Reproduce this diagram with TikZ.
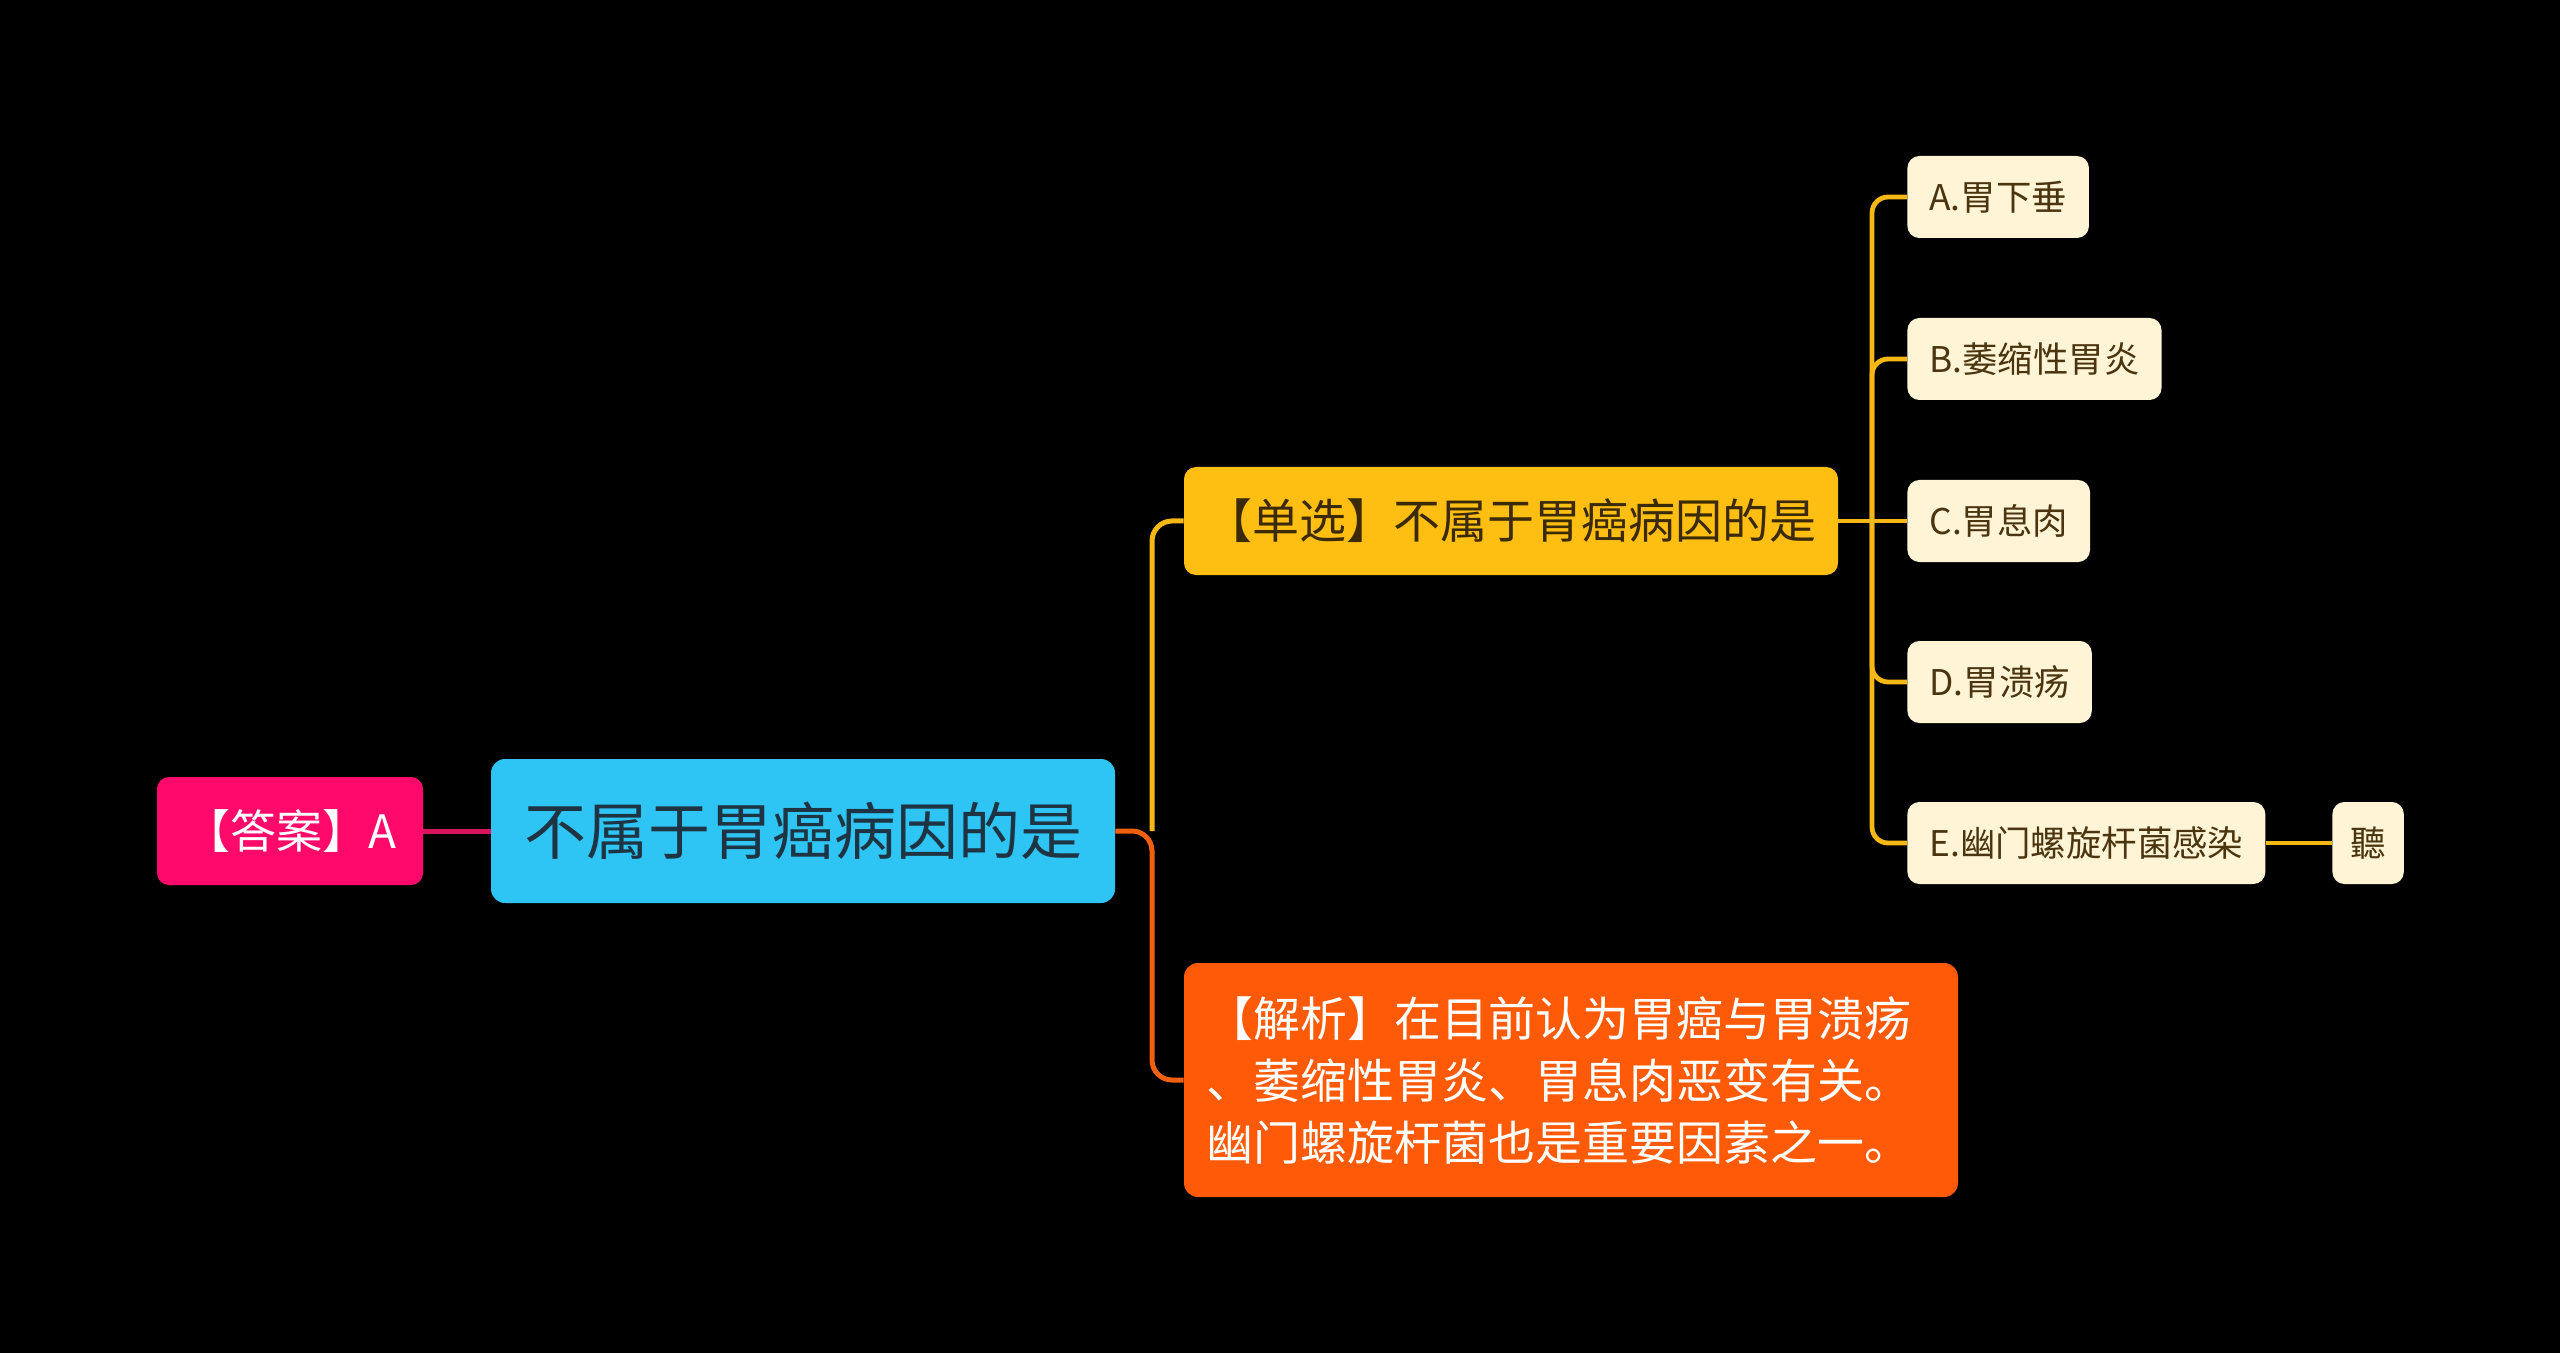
\documentclass[tikz,border=0pt]{standalone}
\usepackage{fontspec}
\newfontfamily\cjk{Noto Sans CJK SC}
\usetikzlibrary{positioning}

\definecolor{ansred}{HTML}{FF0A6A}
\definecolor{rootblue}{HTML}{2EC4F3}
\definecolor{rootink}{HTML}{1E3442}
\definecolor{qyellow}{HTML}{FFBE12}
\definecolor{qink}{HTML}{3B2A08}
\definecolor{noteorange}{HTML}{FF5A07}
\definecolor{optcream}{HTML}{FFF4D5}
\definecolor{optink}{HTML}{4A3510}
\definecolor{linkpink}{HTML}{D8145C}
\definecolor{linkorange}{HTML}{F0600F}
\definecolor{linkyellow}{HTML}{F5B815}

\tikzset{
  ansbox/.style={fill=ansred, text=white, rounded corners=6pt, minimum width=133pt, minimum height=54pt, font=\cjk\fontsize{23pt}{28pt}\selectfont},
  rootbox/.style={fill=rootblue, text=rootink, rounded corners=7pt, minimum width=312pt, minimum height=72pt, font=\cjk\fontsize{31pt}{36pt}\selectfont},
  qbox/.style={fill=qyellow, text=qink, rounded corners=6pt, minimum width=327pt, minimum height=54pt, font=\cjk\fontsize{23.5pt}{28pt}\selectfont},
  notebox/.style={fill=noteorange, text=white, rounded corners=7pt, text width=365pt, inner xsep=11pt, minimum height=117pt, align=left, font=\cjk\fontsize{23.5pt}{31pt}\selectfont},
  optbox/.style={fill=optcream, text=optink, rounded corners=6pt, inner xsep=11pt, minimum height=41pt, anchor=west, font=\cjk\fontsize{17.7pt}{21pt}\selectfont},
  link/.style={line width=2.5pt, rounded corners=10pt},
  sublink/.style={line width=2.4pt, rounded corners=8pt, linkyellow}
}

\begin{document}
\begin{tikzpicture}[x=0.5pt, y=-0.5pt]
  % 背景
  \fill[black] (0,0) rectangle (2560,1353);
  \useasboundingbox (0,0) rectangle (2560,1353);

  % --- 中心主题与答案 ---
  \node[rootbox] (root) at (803,831) {不属于胃癌病因的是};
  \node[ansbox] (ans) at (290,831) {【答案】A};

  % --- 右侧分支 ---
  \node[qbox] (single) at (1511,521) {【单选】不属于胃癌病因的是};
  \node[notebox] (note) at (1571,1080) {【解析】在目前认为胃癌与胃溃疡\\、萎缩性胃炎、胃息肉恶变有关。\\幽门螺旋杆菌也是重要因素之一。};

  % 选项
  \node[optbox] (optA) at (1907,197) {A.胃下垂};
  \node[optbox] (optB) at (1907,359) {B.萎缩性胃炎};
  \node[optbox] (optC) at (1907,521) {C.胃息肉};
  \node[optbox] (optD) at (1907,682) {D.胃溃疡};
  \node[optbox] (optE) at (1907,843) {E.幽门螺旋杆菌感染};
  \node[optbox, inner xsep=9pt] (tin) at (2332,843) {聽};

  % 分叉点
  \coordinate (j1) at (1152,831);
  \coordinate (j2) at (1872,521);

  % 连线
  \draw[link, linkpink] (ans.east) -- (root.west);
  \draw[link, linkyellow] (j1) |- (single.west);
  \draw[link, linkorange] (root.east) -- (j1) |- (note.west);

  \draw[sublink] (single.east) -- (optC.west);
  \draw[sublink] (j2) |- (optA.west);
  \draw[sublink] (j2) |- (optB.west);
  \draw[sublink] (j2) |- (optD.west);
  \draw[sublink] (j2) |- (optE.west);
  \draw[sublink] (optE.east) -- (tin.west);
\end{tikzpicture}
\end{document}
